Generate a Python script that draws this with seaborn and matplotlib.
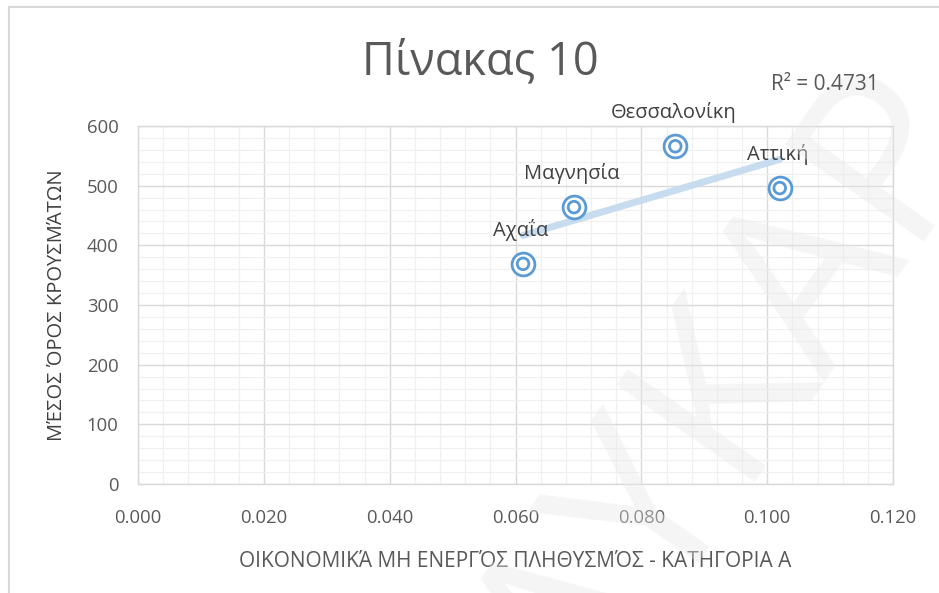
import numpy as np
import pandas as pd
import matplotlib
matplotlib.use("Agg")
import matplotlib.pyplot as plt
from matplotlib.patches import Rectangle
from matplotlib.ticker import MultipleLocator, FormatStrFormatter
import seaborn as sns

# Regions and their values
regions = ["Αχαΐα", "Μαγνησία", "Θεσσαλονίκη", "Αττική"]
inactive_share = [0.0612, 0.0693, 0.0854, 0.1020]
mean_cases = [369, 464, 566, 496]
r_squared_label = "R² = 0.4731"

title = "Πίνακας 10"
x_label = "ΟΙΚΟΝΟΜΙΚΆ ΜΗ ΕΝΕΡΓΌΣ ΠΛΗΘΥΣΜΌΣ - ΚΑΤΗΓΟΡΙΑ Α"
y_label = "ΜΈΣΟΣ ΌΡΟΣ ΚΡΟΥΣΜΆΤΩΝ"
watermark = "ΛΥΚΑΡ"

df = pd.DataFrame({"region": regions, "x": inactive_share, "y": mean_cases})

sns.set_theme(style="white")
plt.rcParams["font.family"] = ["Open Sans", "DejaVu Sans"]

W, H = 939, 593
fig = plt.figure(figsize=(W / 100, H / 100), dpi=100)
fig.patch.set_facecolor("white")

# chart frame
fig.patches.append(Rectangle((9 / W, -0.05), 1.2, 1 - 7 / H + 0.05,
                             transform=fig.transFigure, fill=False,
                             edgecolor="#d9d9d9", linewidth=1.5, zorder=0))

ax = fig.add_axes([138 / W, 1 - 484 / H, (893 - 138) / W, (484 - 126) / H])
ax.set_xlim(0, 0.12)
ax.set_ylim(0, 600)

grey_text = "#595959"
blue = "#5b9bd5"

ax.xaxis.set_major_locator(MultipleLocator(0.02))
ax.xaxis.set_minor_locator(MultipleLocator(0.004))
ax.yaxis.set_major_locator(MultipleLocator(100))
ax.yaxis.set_minor_locator(MultipleLocator(20))
ax.xaxis.set_major_formatter(FormatStrFormatter("%.3f"))
ax.grid(True, which="major", color="#d9d9d9", linewidth=1.0)
ax.grid(True, which="minor", color="#f0f0f0", linewidth=0.9)
ax.set_axisbelow(True)
for s in ax.spines.values():
    s.set_color("#d9d9d9")
    s.set_linewidth(1.0)

ax.tick_params(axis="both", which="both", length=0, colors=grey_text, labelsize=13.3)
ax.tick_params(axis="y", pad=14)
ax.tick_params(axis="x", pad=18)

# linear trendline
sns.regplot(data=df, x="x", y="y", ax=ax, scatter=False, ci=None, truncate=True,
            line_kws={"color": "#c5dbf0", "linewidth": 5, "alpha": 0.95, "zorder": 2})

# bullseye markers: outer ring + inner ring
sns.scatterplot(data=df, x="x", y="y", ax=ax, s=270, marker="o",
                facecolor="white", edgecolor=blue, linewidth=2.0, zorder=3, legend=False)
sns.scatterplot(data=df, x="x", y="y", ax=ax, s=70, marker="o",
                facecolor="none", edgecolor=blue, linewidth=2.0, zorder=4, legend=False)

for _, row in df.iterrows():
    ax.annotate(row["region"], (row["x"], row["y"]), xytext=(-2, 34),
                textcoords="offset pixels", ha="center", va="center",
                fontsize=14.5, color="#404040", zorder=5)

ax.set_xlabel(x_label, fontsize=15, color=grey_text, labelpad=17)
ax.set_ylabel(y_label, fontsize=14.5, color="#404040", labelpad=14)

fig.text(480 / W, 1 - 62 / H, title, ha="center", va="center", fontsize=32.5, color=grey_text)
fig.text(825 / W, 1 - 85 / H, r_squared_label, ha="center", va="center",
         fontsize=15, color=grey_text, zorder=12)

# faint diagonal watermark
fig.text(585 / W, 1 - 725 / H, watermark, rotation=55, rotation_mode="anchor",
         ha="left", va="baseline", fontsize=170, color="#e8e8e8", alpha=0.4,
         zorder=10)

fig.savefig("out.png", dpi=100, facecolor="white")
